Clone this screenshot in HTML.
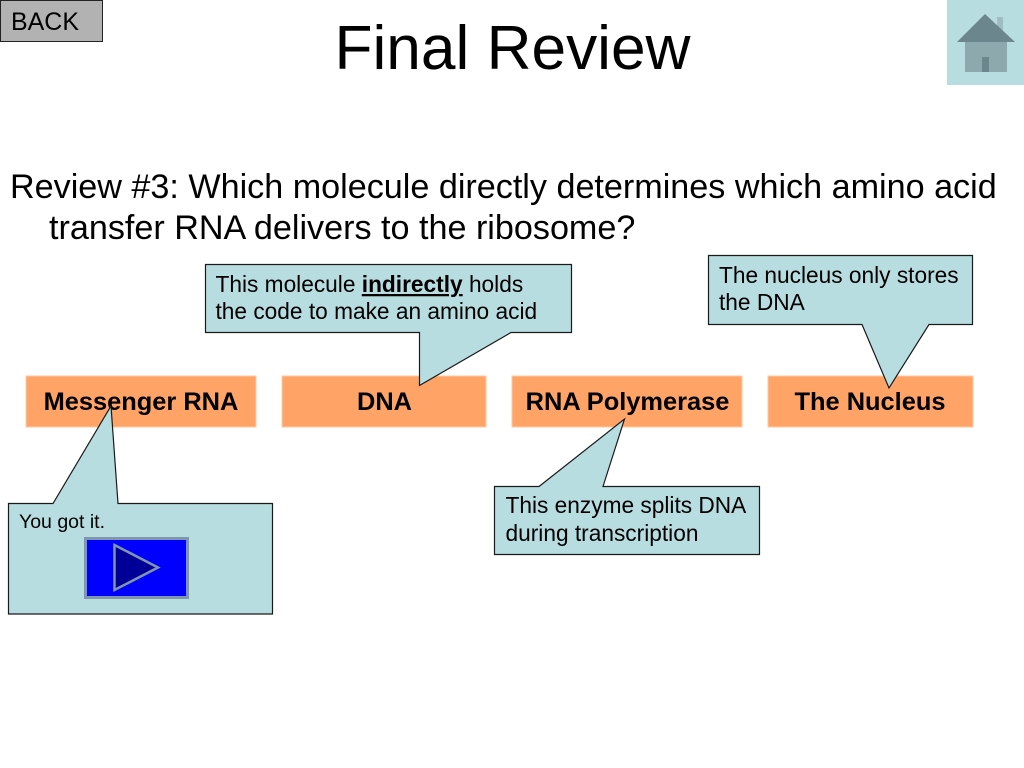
<!DOCTYPE html>
<html><head><meta charset="utf-8"><style>
html,body{margin:0;padding:0;background:#fff}
svg{display:block}
text{font-family:"Liberation Sans",sans-serif;fill:#000}
</style></head><body>
<svg width="1024" height="768" viewBox="0 0 1024 768" xmlns="http://www.w3.org/2000/svg">
<rect x="0.5" y="0.5" width="102" height="41" fill="#b2b2b2" stroke="#222" stroke-width="1"/>
<text x="11" y="30" font-size="24.8" textLength="68" lengthAdjust="spacingAndGlyphs">BACK</text>
<text x="512.500" y="69" font-size="62.200" text-anchor="middle">Final Review</text>
<rect x="947" y="0" width="77" height="85" fill="#b8dde1"/>
<rect x="997" y="17" width="6" height="20" fill="#9fbcc0"/>
<polygon points="985,14 1015,42 957,42" fill="#6b868c"/>
<rect x="965" y="42" width="42" height="30" fill="#8ea9ae"/>
<rect x="982" y="57" width="7" height="15" fill="#6b868c"/>
<text x="10" y="198" font-size="34.150">Review #3: Which molecule directly determines which amino acid</text>
<text x="49" y="239" font-size="34.150">transfer RNA delivers to the ribosome?</text>
<g fill="#ffa366" stroke="#ffc9a3" stroke-width="1">
<rect x="26" y="376" width="230" height="51"/>
<rect x="282" y="376" width="204" height="51"/>
<rect x="512" y="376" width="230" height="51"/>
<rect x="768" y="376" width="205" height="51"/>
</g>
<g font-size="25.400" font-weight="bold" text-anchor="middle">
<text x="141" y="410">Messenger RNA</text>
<text x="384.500" y="410">DNA</text>
<text x="627.500" y="410">RNA Polymerase</text>
<text x="870" y="410">The Nucleus</text>
</g>
<path d="M205.500 264.500H571.500V332.500H511L419.500 385.500V332.500H205.500Z" fill="#b8dde1" stroke="#1a1a1a" stroke-width="1.200"/>
<text x="215.500" y="292" font-size="22.700">This molecule <tspan font-weight="bold" text-decoration="underline">indirectly</tspan> holds</text>
<text x="215.500" y="319" font-size="22.700">the code to make an amino acid</text>
<path d="M708.500 255.500H972.500V324.500H929L889 388L862 324.500H708.500Z" fill="#b8dde1" stroke="#1a1a1a" stroke-width="1.200"/>
<text x="719" y="283" font-size="22.700">The nucleus only stores</text>
<text x="719" y="310" font-size="22.700">the DNA</text>
<path d="M494.500 486.500H539L624.500 419L603 486.500H759.500V554.500H494.500Z" fill="#b8dde1" stroke="#1a1a1a" stroke-width="1.200"/>
<text x="505.500" y="513" font-size="22.700">This enzyme splits DNA</text>
<text x="505.500" y="541" font-size="22.700">during transcription</text>
<path d="M8.500 503.500H53L111 406L118 503.500H272.500V614H8.500Z" fill="#b8dde1" stroke="#1a1a1a" stroke-width="1.200"/>
<text x="19" y="528" font-size="19.500">You got it.</text>
<rect x="85.500" y="538.500" width="102" height="59" fill="#0000ff" stroke="#7f96ad" stroke-width="3"/>
<polygon points="114.500,545 158,567.500 114.500,590" fill="#000099" stroke="#7f96ad" stroke-width="2.500"/>
</svg>
</body></html>
